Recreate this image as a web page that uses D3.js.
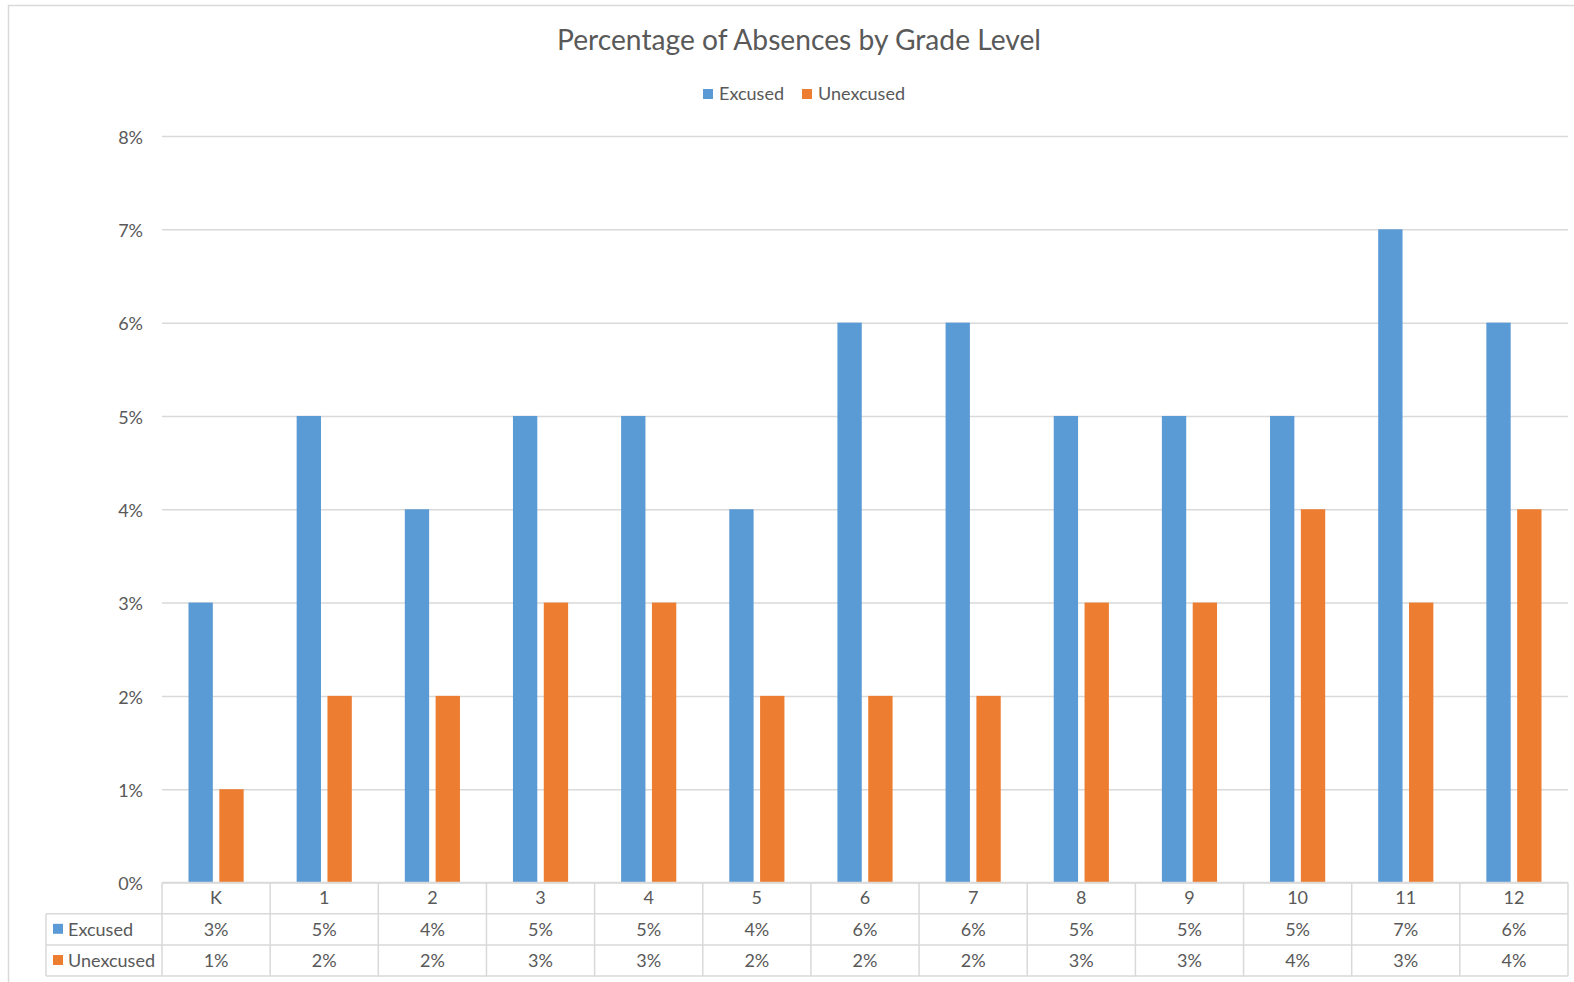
<!DOCTYPE html>
<html>
<head>
<meta charset="utf-8">
<script src="https://cdn.jsdelivr.net/npm/d3@7"></script>
<style>
  html, body { margin: 0; padding: 0; background: #fff; }
  svg { display: block; }
  text { font-family: Lato, "Open Sans", sans-serif; fill: #595959; }
</style>
</head>
<body>
<svg id="chart" width="1574" height="982"></svg>
<script>
const categories = ["K", "1", "2", "3", "4", "5", "6", "7", "8", "9", "10", "11", "12"];
const seriesNames = ["Excused", "Unexcused"];
const excused = [3, 5, 4, 5, 5, 4, 6, 6, 5, 5, 5, 7, 6];
const unexcused = [1, 2, 2, 3, 3, 2, 2, 2, 3, 3, 4, 3, 4];
const yTicks = [0, 1, 2, 3, 4, 5, 6, 7, 8];
const colors = ["#5B9BD5", "#ED7D31"];
const titleText = "Percentage of Absences by Grade Level";

const seriesValues = [excused, unexcused];
const svg = d3.select("#chart");
const W = 1574, H = 982;

// chart border
svg.append("rect").attr("x", 8.5).attr("y", 5.5).attr("width", W).attr("height", H)
  .attr("fill", "none").attr("stroke", "#D9D9D9").attr("stroke-width", 1.5);

const plot = { left: 162, right: 1568, top: 136, bottom: 882.5 };

const x = d3.scaleBand().domain(categories).range([plot.left, plot.right]).paddingInner(0).paddingOuter(0);
const y = d3.scaleLinear().domain([0, 8]).range([plot.bottom, plot.top]);
const bw = x.bandwidth();
const barW = bw * 0.225;
const barGap = bw * 0.06;

// gridlines via axis
const yAxis = d3.axisLeft(y).tickValues(yTicks).tickFormat(d => d + "%")
  .tickSize(-(plot.right - plot.left)).tickPadding(19);
const gy = svg.append("g").attr("transform", `translate(${plot.left},0)`).call(yAxis);
gy.select(".domain").remove();
gy.selectAll(".tick line").attr("stroke", "#D9D9D9").attr("stroke-width", 1.5);
gy.selectAll(".tick text").attr("font-size", 18).attr("fill", "#595959").attr("dy", "0.4em")
  .style("font-family", "Lato, 'Open Sans', sans-serif");

// bars
seriesNames.forEach((s, si) => {
  svg.append("g").selectAll("rect").data(seriesValues[si]).join("rect")
    .attr("x", (d, i) => x(categories[i]) + bw / 2 + (si === 0 ? -barGap / 2 - barW : barGap / 2))
    .attr("y", d => y(d))
    .attr("width", barW)
    .attr("height", d => y(0) - y(d))
    .attr("fill", colors[si]);
});

// data table
const rowTop = plot.bottom, rowH = 31.2;
const tableLeft = 46;
const lines = svg.append("g").attr("stroke", "#D9D9D9").attr("stroke-width", 1.5);
lines.append("line").attr("x1", plot.left).attr("x2", plot.right).attr("y1", rowTop).attr("y2", rowTop);
[1, 2, 3].forEach(r => {
  lines.append("line").attr("x1", tableLeft).attr("x2", plot.right)
    .attr("y1", rowTop + r * rowH).attr("y2", rowTop + r * rowH);
});
categories.forEach((c) => {
  lines.append("line").attr("x1", x(c)).attr("x2", x(c)).attr("y1", rowTop).attr("y2", rowTop + 3 * rowH);
});
lines.append("line").attr("x1", plot.right).attr("x2", plot.right).attr("y1", rowTop).attr("y2", rowTop + 3 * rowH);
lines.append("line").attr("x1", tableLeft).attr("x2", tableLeft).attr("y1", rowTop + rowH).attr("y2", rowTop + 3 * rowH);

// header row
svg.append("g").selectAll("text").data(categories).join("text")
  .attr("x", d => x(d) + bw / 2).attr("y", rowTop + rowH / 2)
  .attr("dy", "0.35em").attr("text-anchor", "middle").attr("font-size", 18).text(d => d);

seriesNames.forEach((s, si) => {
  const ry = rowTop + (si + 1) * rowH + rowH / 2;
  svg.append("rect").attr("x", 53).attr("y", ry - 5.5).attr("width", 10).attr("height", 10).attr("fill", colors[si]);
  svg.append("text").attr("x", 68).attr("y", ry).attr("dy", "0.35em").attr("font-size", 18).text(s);
  svg.append("g").selectAll("text").data(seriesValues[si]).join("text")
    .attr("x", (d, i) => x(categories[i]) + bw / 2).attr("y", ry)
    .attr("dy", "0.35em").attr("text-anchor", "middle").attr("font-size", 18).text(d => d + "%");
});

// title
const title = svg.append("text").attr("x", 799).attr("y", 50).attr("text-anchor", "middle")
  .attr("font-size", 28).text(titleText);
const tw = title.node().getComputedTextLength();
title.attr("font-size", 28 * 484 / tw);

// legend
const legend = svg.append("g");
const legItems = [{ x: 703, tx: 719 }, { x: 802, tx: 818 }];
seriesNames.forEach((s, si) => {
  legend.append("rect").attr("x", legItems[si].x).attr("y", 89).attr("width", 10).attr("height", 10).attr("fill", colors[si]);
  legend.append("text").attr("x", legItems[si].tx).attr("y", 94).attr("dy", "0.35em").attr("font-size", 18).text(s);
});
</script>
</body>
</html>
